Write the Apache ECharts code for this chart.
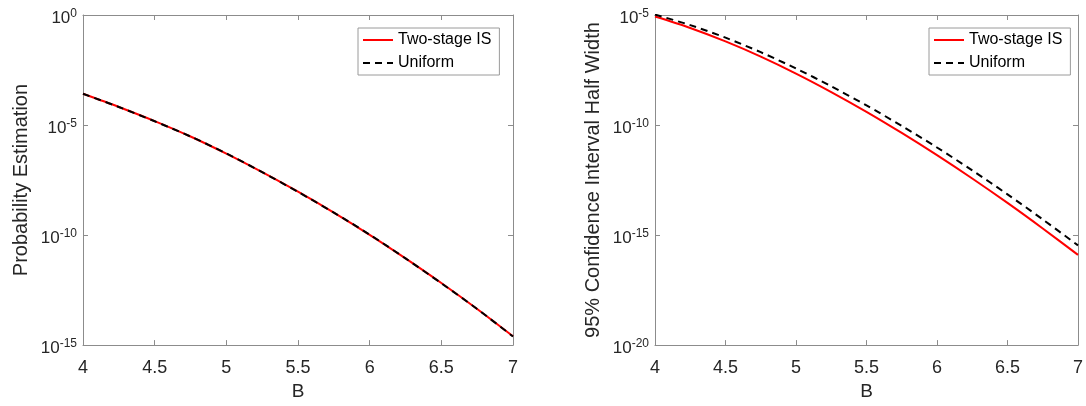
<!DOCTYPE html>
<html>
<head>
<meta charset="utf-8">
<script src="https://cdn.jsdelivr.net/npm/echarts@6/dist/echarts.min.js"></script>
<style>
html,body{margin:0;padding:0;background:#fff;}
#c{width:1086px;height:406px;}
</style>
</head>
<body>
<div id="c"></div>
<script>
// B values (x axis)
const B = [4.0, 4.25, 4.5, 4.75, 5.0, 5.25, 5.5, 5.75, 6.0, 6.25, 6.5, 6.75, 7.0];
const xTicks = [4, 4.5, 5, 5.5, 6, 6.5, 7];
// Left panel: log10 of probability estimation
const probTwoStageExp = [-3.58, -4.18, -4.82, -5.52, -6.30, -7.14, -8.03, -8.98, -9.99, -11.06, -12.18, -13.36, -14.60];
const probUniformExp  = [-3.58, -4.18, -4.83, -5.52, -6.29, -7.14, -8.04, -8.98, -9.98, -11.06, -12.19, -13.36, -14.61];
// Right panel: log10 of 95% CI half width
const ciTwoStageExp = [-5.07, -5.59, -6.20, -6.89, -7.66, -8.50, -9.40, -10.36, -11.37, -12.43, -13.54, -14.70, -15.90];
const ciUniformExp  = [-4.98, -5.46, -6.03, -6.69, -7.43, -8.24, -9.11, -10.04, -11.02, -12.06, -13.15, -14.29, -15.47];
// y tick exponents
const leftYTicks = [0, -5, -10, -15];
const rightYTicks = [-5, -10, -15, -20];

const toPts = (xs, es) => xs.map((x, i) => [x, Math.pow(10, es[i])]);

const AX = '#8c8c8c', TX = '#262626';
const FONT = '"Liberation Sans", Arial, sans-serif';

function yLabel(v) {
  const e = Math.round(Math.log10(v));
  return '{b|10}{s|' + e + '}';
}
const yRich = {
  b: {fontSize: 17, color: TX, fontFamily: FONT, lineHeight: 22},
  s: {fontSize: 12, color: TX, fontFamily: FONT, lineHeight: 12, verticalAlign: 'top'}
};

function xAxisMain(gi) {
  return {
    type: 'value', gridIndex: gi, min: 4, max: 7, interval: 0.5,
    name: 'B', nameLocation: 'middle', nameGap: 29,
    nameTextStyle: {fontSize: 19, color: TX, fontFamily: FONT},
    axisLine: {lineStyle: {color: AX, width: 1}},
    axisTick: {inside: true, length: 5, lineStyle: {color: AX}},
    axisLabel: {fontSize: 18, color: TX, fontFamily: FONT, margin: 14,
      formatter: v => String(v)},
    splitLine: {show: false}
  };
}
function xAxisTop(gi) {
  return {
    type: 'value', gridIndex: gi, min: 4, max: 7, interval: 0.5, position: 'top',
    axisLine: {lineStyle: {color: AX, width: 1}},
    axisTick: {inside: true, length: 5, lineStyle: {color: AX}},
    axisLabel: {show: false}, splitLine: {show: false}
  };
}
function yAxisMain(gi, minE, maxE, name, gap) {
  return {
    type: 'log', logBase: 10, gridIndex: gi,
    min: Math.pow(10, minE), max: Math.pow(10, maxE), interval: 5,
    name: name, nameLocation: 'middle', nameGap: gap,
    nameTextStyle: {fontSize: 20, color: TX, fontFamily: FONT},
    axisLine: {show: true, lineStyle: {color: AX, width: 1}},
    axisTick: {show: true, inside: true, length: 5, lineStyle: {color: AX}},
    minorTick: {show: false},
    axisLabel: {formatter: yLabel, rich: yRich, margin: 6, padding: [7, 0, 0, 0]},
    splitLine: {show: false}
  };
}
function yAxisRight(gi, minE, maxE) {
  return {
    type: 'log', logBase: 10, gridIndex: gi, position: 'right',
    min: Math.pow(10, minE), max: Math.pow(10, maxE), interval: 5,
    axisLine: {show: true, lineStyle: {color: AX, width: 1}},
    axisTick: {show: true, inside: true, length: 5, lineStyle: {color: AX}},
    axisLabel: {show: false}, splitLine: {show: false}
  };
}

const lineRed = {color: '#ff0000', width: 2};
const lineBlack = {color: '#000000', width: 2, type: [7, 5]};

function legend(left) {
  return {
    left: left, top: 28, orient: 'vertical',
    data: ['Two-stage IS', 'Uniform'],
    itemWidth: 30, itemHeight: 14, itemGap: 7,
    itemStyle: {opacity: 0},
    textStyle: {fontSize: 16, color: '#000', fontFamily: FONT},
    backgroundColor: '#fff', borderColor: '#9a9a9a', borderWidth: 1,
    padding: [4, 8, 4, 4], selectedMode: false
  };
}

const option = {
  animation: false,
  backgroundColor: '#fff',
  grid: [
    {left: 83, top: 15, width: 430, height: 335},
    {left: 655, top: 15, width: 430, height: 335}
  ],
  xAxis: [xAxisMain(0), xAxisMain(1), xAxisTop(0), xAxisTop(1)],
  yAxis: [
    yAxisMain(0, -15, 0, 'Probability Estimation', 52),
    yAxisMain(1, -20, -5, '95% Confidence Interval Half Width', 52),
    yAxisRight(0, -15, 0),
    yAxisRight(1, -20, -5)
  ],
  legend: [legend(358), legend(929)],
  series: [
    {name: 'Two-stage IS', type: 'line', xAxisIndex: 0, yAxisIndex: 0, data: toPts(B, probTwoStageExp),
      smooth: 0.3, showSymbol: false, symbol: 'none', lineStyle: lineRed, itemStyle: {color: '#ff0000'}, z: 2},
    {name: 'Uniform', type: 'line', xAxisIndex: 0, yAxisIndex: 0, data: toPts(B, probUniformExp),
      smooth: 0.3, showSymbol: false, symbol: 'none', lineStyle: lineBlack, itemStyle: {color: '#000'}, z: 3},
    {name: 'Two-stage IS', type: 'line', xAxisIndex: 1, yAxisIndex: 1, data: toPts(B, ciTwoStageExp),
      smooth: 0.3, showSymbol: false, symbol: 'none', lineStyle: lineRed, itemStyle: {color: '#ff0000'}, z: 2},
    {name: 'Uniform', type: 'line', xAxisIndex: 1, yAxisIndex: 1, data: toPts(B, ciUniformExp),
      smooth: 0.3, showSymbol: false, symbol: 'none', lineStyle: lineBlack, itemStyle: {color: '#000'}, z: 3}
  ]
};

const chart = echarts.init(document.getElementById('c'), null, {renderer: 'canvas'});
chart.setOption(option);
</script>
</body>
</html>
